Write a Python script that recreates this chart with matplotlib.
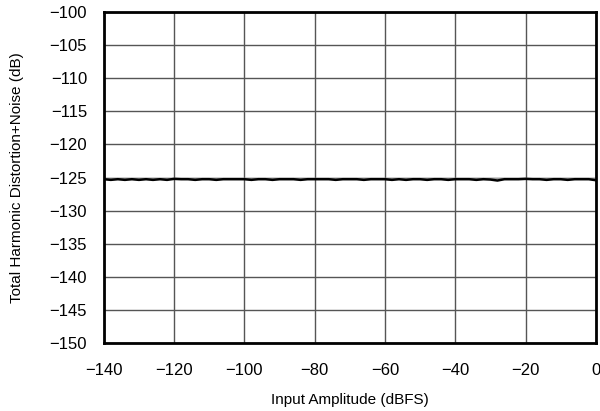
import matplotlib
matplotlib.use("Agg")
import matplotlib.pyplot as plt

plt.rcParams['font.family'] = ['Liberation Sans', 'DejaVu Sans']

# input amplitude (dBFS) and THD+N (dB)
amplitude = [-140, -138, -136, -134, -132, -130, -128, -126, -124, -122, -120,
             -118, -116, -114, -112, -110, -108, -106, -104, -102, -100, -98,
             -96, -94, -92, -90, -88, -86, -84, -82, -80, -78, -76, -74, -72,
             -70, -68, -66, -64, -62, -60, -58, -56, -54, -52, -50, -48, -46,
             -44, -42, -40, -38, -36, -34, -32, -30, -28, -26, -24, -22, -20,
             -18, -16, -14, -12, -10, -8, -6, -4, -2, 0]
thdn = [-125.25, -125.35, -125.25, -125.35, -125.25, -125.35, -125.25, -125.35, -125.25,
        -125.35, -125.2, -125.25, -125.25, -125.35, -125.25, -125.25, -125.35, -125.25,
        -125.25, -125.25, -125.25, -125.35, -125.25, -125.25, -125.35, -125.25, -125.25,
        -125.25, -125.35, -125.25, -125.25, -125.25, -125.25, -125.35, -125.25, -125.25,
        -125.25, -125.35, -125.25, -125.25, -125.25, -125.35, -125.25, -125.35, -125.25,
        -125.25, -125.35, -125.25, -125.25, -125.35, -125.25, -125.25, -125.25, -125.35,
        -125.25, -125.3, -125.45, -125.25, -125.25, -125.25, -125.2, -125.25, -125.25,
        -125.35, -125.25, -125.25, -125.35, -125.25, -125.25, -125.25, -125.4]
thdn_ref = [-125.1] * len(amplitude)

fig, ax = plt.subplots(figsize=(6, 4.11), dpi=100)
fig.subplots_adjust(left=0.173, right=0.993, top=0.971, bottom=0.165)

ax.plot(amplitude, thdn_ref, color='#999999', linewidth=1.0)
ax.plot(amplitude, thdn, color='black', linewidth=1.8)

ax.set_xlim(-140, 0)
ax.set_ylim(-150, -100)
ax.set_xticks(range(-140, 1, 20))
ax.set_yticks(range(-150, -99, 5))
ax.set_xticklabels(['\u2212%d' % -v if v < 0 else '0' for v in range(-140, 1, 20)])
ax.set_yticklabels(['\u2212%d' % -v for v in range(-150, -99, 5)])
ax.grid(True, color='#555555', linewidth=1.0)
ax.tick_params(length=0, labelsize=12)
ax.tick_params(axis='y', pad=12)
ax.tick_params(axis='x', pad=14)
for s in ax.spines.values():
    s.set_linewidth(2)
    s.set_color('black')

ax.set_xlabel('Input Amplitude (dBFS)', fontsize=11)
ax.set_ylabel('Total Harmonic Distortion+Noise (dB)', fontsize=11)
ax.xaxis.set_label_coords(0.5, -0.15)
ax.yaxis.set_label_coords(-0.163, 0.5)

fig.savefig('out.png')
